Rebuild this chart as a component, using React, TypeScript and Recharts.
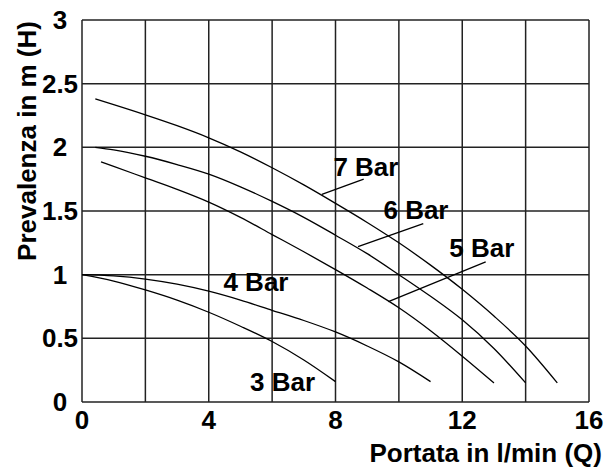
import React from "react";
import {
  CartesianGrid,
  Label,
  Line,
  LineChart,
  ReferenceDot,
  ReferenceLine,
  XAxis,
  YAxis,
} from "recharts";

type Pt = { q: number; h: number };

// pump curves, Q in l/min, H in m
const bar7: Pt[] = [
  { q: 0.42, h: 2.38 }, { q: 1, h: 2.335 }, { q: 2, h: 2.255 }, { q: 3, h: 2.17 },
  { q: 4, h: 2.075 }, { q: 5, h: 1.965 }, { q: 6, h: 1.84 }, { q: 7, h: 1.705 },
  { q: 8, h: 1.56 }, { q: 9, h: 1.41 }, { q: 10, h: 1.25 }, { q: 11, h: 1.075 },
  { q: 12, h: 0.885 }, { q: 13, h: 0.675 }, { q: 14, h: 0.44 }, { q: 15, h: 0.15 },
];
const bar6: Pt[] = [
  { q: 0.42, h: 2.0 }, { q: 1, h: 1.98 }, { q: 2, h: 1.93 }, { q: 3, h: 1.865 },
  { q: 4, h: 1.79 }, { q: 5, h: 1.69 }, { q: 6, h: 1.575 }, { q: 7, h: 1.45 },
  { q: 8, h: 1.31 }, { q: 9, h: 1.165 }, { q: 10, h: 1.0 }, { q: 11, h: 0.83 },
  { q: 12, h: 0.645 }, { q: 13, h: 0.42 }, { q: 14, h: 0.15 },
];
const bar5: Pt[] = [
  { q: 0.6, h: 1.885 }, { q: 1, h: 1.85 }, { q: 2, h: 1.76 }, { q: 3, h: 1.67 },
  { q: 4, h: 1.57 }, { q: 5, h: 1.45 }, { q: 6, h: 1.315 }, { q: 7, h: 1.18 },
  { q: 8, h: 1.04 }, { q: 9, h: 0.895 }, { q: 10, h: 0.74 }, { q: 11, h: 0.56 },
  { q: 12, h: 0.36 }, { q: 13, h: 0.15 },
];
const bar4: Pt[] = [
  { q: 0, h: 1.0 }, { q: 1, h: 0.99 }, { q: 2, h: 0.965 }, { q: 3, h: 0.925 },
  { q: 4, h: 0.87 }, { q: 5, h: 0.8 }, { q: 6, h: 0.72 }, { q: 7, h: 0.64 },
  { q: 8, h: 0.55 }, { q: 9, h: 0.44 }, { q: 10, h: 0.315 }, { q: 11, h: 0.16 },
];
const bar3: Pt[] = [
  { q: 0, h: 1.0 }, { q: 1, h: 0.95 }, { q: 2, h: 0.88 }, { q: 3, h: 0.8 },
  { q: 4, h: 0.705 }, { q: 5, h: 0.595 }, { q: 6, h: 0.475 }, { q: 7, h: 0.33 },
  { q: 8, h: 0.16 },
];

const series = [bar7, bar6, bar5, bar4, bar3];

const xTicks = [0, 2, 4, 6, 8, 10, 12, 14, 16];
const xLabelled = [0, 4, 8, 12, 16];
const yTicks = [0, 0.5, 1, 1.5, 2, 2.5, 3];

// curve names, placed in data units
const curveLabels = [
  { text: "7 Bar", q: 8.96, h: 1.845 },
  { text: "6 Bar", q: 10.54, h: 1.506 },
  { text: "5 Bar", q: 12.62, h: 1.213 },
  { text: "4 Bar", q: 5.49, h: 0.944 },
  { text: "3 Bar", q: 6.33, h: 0.16 },
];

// leader lines from label to curve
const leaders = [
  [{ x: 8.89, y: 1.75 }, { x: 7.57, y: 1.63 }],
  [{ x: 10.77, y: 1.4 }, { x: 8.71, y: 1.22 }],
  [{ x: 12.74, y: 1.1 }, { x: 9.67, y: 0.788 }],
];

const font = "'Liberation Sans', Arial, Helvetica, sans-serif";
const textStyle = { fontSize: 26, fontWeight: "bold", fill: "#000", fontFamily: font };

const YTick = ({ x, y, payload }: any) => (
  <text x={x - 17} y={y} textAnchor="middle" dominantBaseline="central" style={textStyle}>
    {payload.value}
  </text>
);

export default function App() {
  return (
    <div style={{ position: "absolute", left: 0, top: 0, background: "#fff" }}>
      <LineChart width={608} height={467} margin={{ top: 20, right: 19, bottom: 0, left: 0 }}>
        <CartesianGrid stroke="#222" strokeWidth={1.5} />
        <XAxis
          type="number"
          dataKey="q"
          domain={[0, 16]}
          ticks={xTicks}
          interval={0}
          height={65}
          axisLine={false}
          tickLine={false}
          tickSize={6}
          tickMargin={3}
          tick={textStyle}
          tickFormatter={(v) => (xLabelled.includes(v) ? String(v) : "")}
          label={
            <Label
              content={({ viewBox }: any) => (
                <text
                  x={viewBox.x + viewBox.width + 13}
                  y={viewBox.y + 51}
                  textAnchor="end"
                  dominantBaseline="central"
                  style={textStyle}
                >
                  Portata in l/min (Q)
                </text>
              )}
            />
          }
        />
        <YAxis
          type="number"
          domain={[0, 3]}
          ticks={yTicks}
          interval={0}
          width={82}
          axisLine={false}
          tickLine={false}
          tickSize={5}
          tickMargin={0}
          tick={<YTick />}
          label={
            <Label
              content={({ viewBox }: any) => {
                const cx = 27;
                const cy = viewBox.y + 121;
                return (
                  <text
                    x={cx}
                    y={cy}
                    transform={`rotate(-90, ${cx}, ${cy})`}
                    textAnchor="middle"
                    dominantBaseline="central"
                    style={textStyle}
                  >
                    Prevalenza in m (H)
                  </text>
                );
              }}
            />
          }
        />
        {series.map((d, i) => (
          <Line
            key={i}
            data={d}
            dataKey="h"
            type="monotone"
            stroke="#000"
            strokeWidth={1.3}
            dot={false}
            activeDot={false}
            isAnimationActive={false}
          />
        ))}
        {leaders.map((seg, i) => (
          <ReferenceLine key={"l" + i} segment={seg} stroke="#000" strokeWidth={1.3} />
        ))}
        {curveLabels.map((c) => (
          <ReferenceDot
            key={c.text}
            x={c.q}
            y={c.h}
            r={0}
            fill="none"
            stroke="none"
            label={{ value: c.text, position: "center", ...textStyle }}
          />
        ))}
      </LineChart>
    </div>
  );
}
